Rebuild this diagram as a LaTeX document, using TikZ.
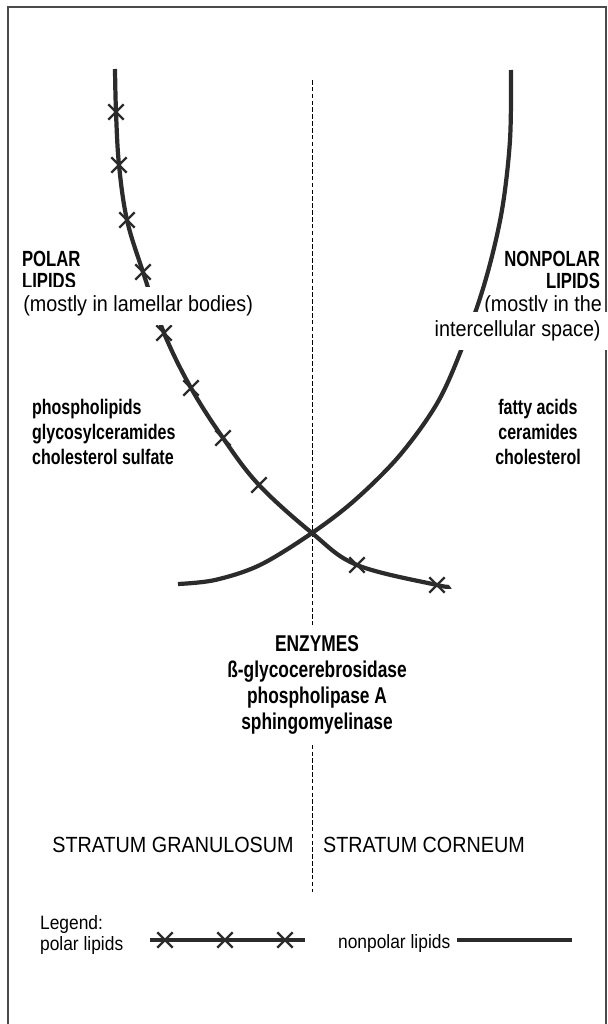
\documentclass[tikz,border=0pt]{standalone}
\usepackage{fontspec}
\setmainfont{Liberation Sans}[FakeStretch=0.9, BoldFeatures={FakeStretch=0.76}]
\usepackage{tikz}
\usetikzlibrary{shapes.misc}
\definecolor{lipidink}{HTML}{2B2B2B}
\definecolor{frameink}{HTML}{4A4A4A}

\begin{document}
\begin{tikzpicture}[
  x=0.02cm, y=-0.02cm,
  lipid/.style={line width=2.4pt, lipidink},
  xmark/.style={draw=lipidink, cross out, line width=1.3pt, minimum size=7.5pt, inner sep=0pt},
  lbl/.style={font=\fontsize{12.5}{13}\selectfont, inner sep=1pt},
  key/.style={font=\fontsize{11}{11.5}\selectfont, inner sep=1pt},
  head/.style={font=\fontsize{12.5}{12.5}\selectfont\bfseries, inner sep=1pt},
  bld/.style={font=\fontsize{12}{14.3}\selectfont\bfseries, align=center, inner sep=1pt},
  blank/.style={fill=white, inner xsep=4pt, inner ysep=5pt}
]
\useasboundingbox (0,0) rectangle (608,1024);
% frame and layer border
\draw[frameink, line width=0.8pt] (8,1024) -- (8,7) -- (606,7) -- (606,1024);
\draw[dash pattern=on 2.6pt off 1.3pt, line width=0.5pt] (312,80) -- (312,892);

% curve points
\coordinate (ptop) at (115,69);
\coordinate (nptop) at (511,70);
\coordinate (cross) at (312,533);
\coordinate (pend) at (447,586);
\coordinate (npend) at (178,584);
\foreach \n/\p in {1/{116,112},2/{119,165},3/{127,220},4/{143,272},5/{164,333},
                   6/{191,388},7/{223,438},8/{259,485},9/{357,565},10/{437,585}}
  \coordinate (pm\n) at (\p);

% polar lipids
\draw[lipid] plot[smooth, tension=0.6] coordinates {(ptop) (pm1) (pm2) (pm3) (pm4) (pm5)
  (pm6) (pm7) (pm8) (cross) (pm9) (pm10) (pend)};
\foreach \n in {1,...,10}
  \node[xmark] (x\n) at (pm\n) {};

% nonpolar lipids
\draw[lipid] plot[smooth, tension=0.55] coordinates {(nptop) (510,140) (502,210) (487,275)
  (467,335) (439,400) (400,455) (355,500) (cross) (260,565) (215,580) (npend)};

% labels
\node[head, align=left, anchor=west] (polarhead) at (20,270) {POLAR\\LIPIDS};
\node[lbl, blank, anchor=west] (polarnote) at (16,306) {(mostly in lamellar bodies)};
\node[head, align=right, anchor=east] (nonpolarhead) at (602,270) {NONPOLAR\\LIPIDS};
\node[lbl, anchor=east] (nonpolarnote) at (604,306) {(mostly in the};
\node[lbl, blank, anchor=east] (nonpolarspace) at (608,331) {intercellular space)};

\node[bld, align=left, anchor=west] (polarlist) at (30,432) {phospholipids\\glycosylceramides\\cholesterol sulfate};
\node[bld] (nonpolarlist) at (538,432) {fatty acids\\ceramides\\cholesterol};

\node[bld, blank, inner ysep=6pt, font=\fontsize{13}{14.8}\selectfont\bfseries] (enzymes) at (317,685)
  {ENZYMES\\ß-glycocerebrosidase\\phospholipase A\\sphingomyelinase};

\node[lbl] (granulosum) at (173,845) {STRATUM GRANULOSUM};
\node[lbl] (corneum) at (424,845) {STRATUM CORNEUM};

% legend
\node[key, align=left, anchor=west] (legend) at (38,935) {Legend:\\polar lipids};
\draw[lipid] (150,940) -- (305,940);
\foreach \n/\x in {1/165,2/225,3/285}
  \node[xmark] (lx\n) at (\x,940) {};
\node[key, anchor=west] (nonpolarkey) at (336,943) {nonpolar lipids};
\draw[lipid] (457,940) -- (572,940);
\end{tikzpicture}
\end{document}
